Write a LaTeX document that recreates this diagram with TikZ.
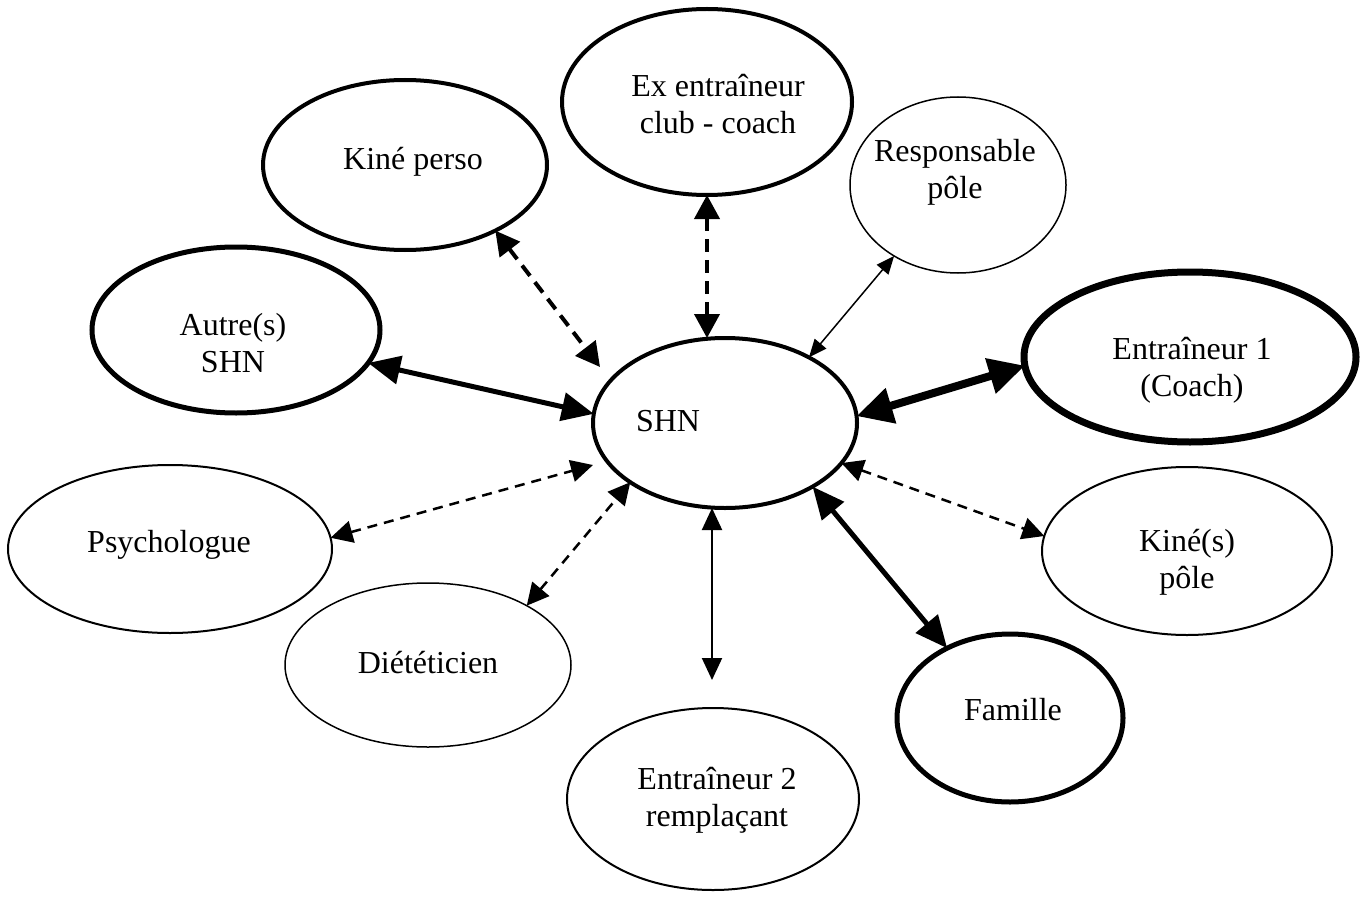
\documentclass[tikz,border=0pt]{standalone}
\usepackage{fontspec}
\setmainfont{Liberation Serif}
\usetikzlibrary{shapes.geometric,arrows.meta}
\tikzset{
  ell/.style={draw, ellipse, inner sep=0pt, outer sep=0pt},
  lbl/.style={align=center, inner sep=0pt, font=\fontsize{32}{37}\selectfont},
  thinell/.style={ell, line width=1.5pt},
  midell/.style={ell, line width=2pt},
  boldell/.style={ell, line width=4pt},
  heavyell/.style={ell, line width=5pt},
  hugeell/.style={ell, line width=7pt},
  arrthin/.style={line width=1.5pt, >={Triangle[length=18pt,width=15pt]}, <->},
  arrmid/.style={line width=2pt, >={Triangle[length=22pt,width=20pt]}, <->},
  arrdash/.style={line width=2.5pt, dash pattern=on 10pt off 7pt, >={Triangle[length=22pt,width=22pt]}, <->},
  arrdashbold/.style={line width=4pt, dash pattern=on 13pt off 8pt, >={Triangle[length=24pt,width=25pt]}, <->},
  arrbold/.style={line width=5pt, >={Triangle[length=32pt,width=28pt]}, <->},
  arrhuge/.style={line width=8pt, >={Triangle[length=36pt,width=35pt]}, <->}
}
\begin{document}
\begin{tikzpicture}[x=1pt,y=-1pt]
\fill[white] (0,0) rectangle (1364,896);
\useasboundingbox (0,0) rectangle (1364,896);
% ellipses
\node[boldell, minimum width=290pt, minimum height=186pt] (ex) at (707,102) {};
\node[boldell, minimum width=284pt, minimum height=170pt] (kp) at (405,165) {};
\node[thinell, minimum width=216pt, minimum height=176pt] (resp) at (958,185) {};
\node[heavyell, minimum width=288pt, minimum height=166pt] (autre) at (236,330) {};
\node[boldell, minimum width=264pt, minimum height=170pt] (shn) at (725,423) {};
\node[hugeell, minimum width=332pt, minimum height=170pt] (e1) at (1190,357) {};
\node[midell, minimum width=324pt, minimum height=168pt] (psy) at (170,549) {};
\node[midell, minimum width=290pt, minimum height=168pt] (kpole) at (1187,551) {};
\node[thinell, minimum width=286pt, minimum height=164pt] (diet) at (428,665) {};
\node[heavyell, minimum width=226pt, minimum height=168pt] (fam) at (1010,718) {};
\node[midell, minimum width=292pt, minimum height=182pt] (e2) at (713,799) {};
% labels
\node[lbl] (ex-t) at (718,104) {Ex entraîneur\\club - coach};
\node[lbl] (kp-t) at (413,162) {Kiné perso};
\node[lbl] (resp-t) at (955,172) {Responsable\\pôle};
\node[lbl] (autre-t) at (233,343) {Autre(s)\\SHN};
\node[lbl] (shn-t) at (668,421) {SHN};
\node[lbl] (e1-t) at (1192,370) {Entraîneur 1\\(Coach)};
\node[lbl] (psy-t) at (169,545) {Psychologue};
\node[lbl] (kpole-t) at (1187,562) {Kiné(s)\\pôle};
\node[lbl] (diet-t) at (428,663) {Diététicien};
\node[lbl] (fam-t) at (1013,710) {Famille};
\node[lbl] (e2-t) at (717,800) {Entraîneur 2\\remplaçant};
% free ends
\coordinate (kpend) at (600,367);
\coordinate (psyend) at (593,465);
\coordinate (e2end) at (712,680);
% connectors
\draw[arrdashbold] (kp.-36.5) -- (kpend);
\draw[arrdashbold] (ex.south) -- (ex.south |- shn.north);
\draw[arrthin] (resp.-132.3) -- (shn.38.2);
\draw[arrbold] (autre.-14.8) -- (shn.176.5);
\draw[arrhuge] (shn.3.5) -- (e1.183.8);
\draw[arrdash] (psy.4.9) -- (psyend);
\draw[arrdash] (diet.31.4) -- (shn.212.6);
\draw[arrmid] (e2end |- shn.south) -- (e2end);
\draw[arrbold] (shn.-36.9) -- (fam.132.7);
\draw[arrdash] (shn.-19.1) -- (kpole.174.9);
\end{tikzpicture}
\end{document}
